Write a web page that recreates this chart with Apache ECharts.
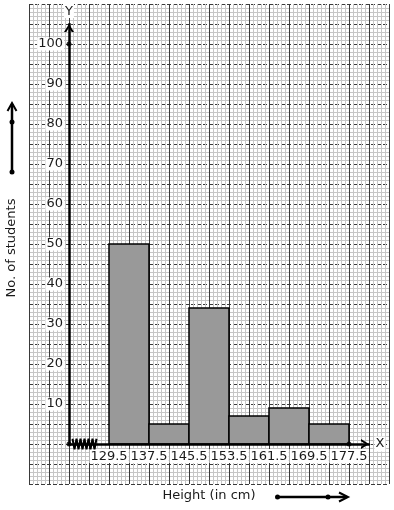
<!DOCTYPE html>
<html>
<head>
<meta charset="utf-8">
<script src="https://cdn.jsdelivr.net/npm/echarts@6/dist/echarts.min.js"></script>
<style>html,body{margin:0;padding:0;background:#fff}#c{width:394px;height:510px}</style>
</head>
<body>
<div id="c"></div>
<script>
// ---- data ----
const classEdges = [129.5, 137.5, 145.5, 153.5, 161.5, 169.5, 177.5];
const students = [50, 5, 34, 7, 9, 5];
const yTickLabels = [10, 20, 30, 40, 50, 60, 70, 80, 90, 100];
const xAxisStart = 121.5;
const xAxisEnd = 181.5;
const yAxisMax = 105;
const axisDots = [[121.5, 0], [121.5, 100], [177.5, 0]];
const xTitle = 'Height (in cm)';
const yTitle = 'No. of students';

const FONT = 'DejaVu Sans';
const TXT = '#1a1a1a';
const chevron = 'path://M0,8 L5,0 L10,8 L7.7,8 L5,3.6 L2.3,8 Z';

const bars = students.map((v, i) => [classEdges[i], classEdges[i + 1], v]);

// break mark (zigzag) between origin and first class edge
const zig = [];
for (let k = 0; k <= 12; k++) {
  zig.push([xAxisStart + 0.7 + k * 0.4, k % 2 === 0 ? 1.3 : -1.3]);
}

const chart = echarts.init(document.getElementById('c'), null, {renderer: 'canvas'});
chart.setOption({
  animation: false,
  backgroundColor: '#fff',
  grid: [
    {left: 29, top: 4, width: 360, height: 480},
    {left: 69, top: 24, width: 300, height: 420}
  ],
  xAxis: [
    {
      gridIndex: 0, type: 'value', min: 0, max: 90, interval: 5, z: 0,
      axisLine: {show: false}, axisTick: {show: false}, axisLabel: {show: false},
      splitLine: {show: true, lineStyle: {color: '#3a3a3a', width: 1}},
      minorTick: {show: false, splitNumber: 5},
      minorSplitLine: {show: true, lineStyle: {color: '#c6c6c6', width: 1}}
    },
    {
      gridIndex: 1, type: 'value', min: xAxisStart, max: xAxisEnd, z: 6,
      name: 'X', nameLocation: 'end', nameGap: 4,
      nameTextStyle: {fontFamily: FONT, fontSize: 13, color: TXT, backgroundColor: '#fff', padding: [1, 1, 1, 1]},
      axisLine: {show: true, lineStyle: {color: '#000', width: 2.5},
        symbol: ['none', chevron], symbolSize: [10, 8], symbolOffset: [0, -4]},
      axisTick: {show: false},
      axisLabel: {show: true, customValues: classEdges, margin: 5,
        formatter: v => v.toFixed(1),
        fontFamily: FONT, fontSize: 13, color: TXT,
        backgroundColor: '#fff', padding: [1, 1, 0, 1]},
      splitLine: {show: false}
    }
  ],
  yAxis: [
    {
      gridIndex: 0, type: 'value', min: 0, max: 120, interval: 5, z: 0,
      axisLine: {show: false}, axisTick: {show: false}, axisLabel: {show: false},
      splitLine: {show: true, lineStyle: {color: '#3a3a3a', width: 1, type: [4, 2]}},
      minorTick: {show: false, splitNumber: 5},
      minorSplitLine: {show: true, lineStyle: {color: '#c6c6c6', width: 1}}
    },
    {
      gridIndex: 1, type: 'value', min: 0, max: yAxisMax, z: 6,
      name: 'Y', nameLocation: 'end', nameGap: 6,
      nameTextStyle: {fontFamily: FONT, fontSize: 13, color: TXT, backgroundColor: '#fff', padding: [1, 1, 0, 1]},
      axisLine: {show: true, lineStyle: {color: '#000', width: 2.5},
        symbol: ['none', chevron], symbolSize: [10, 8], symbolOffset: [0, -4]},
      axisTick: {show: false},
      axisLabel: {show: true, customValues: yTickLabels, margin: 5,
        fontFamily: FONT, fontSize: 13, color: TXT,
        backgroundColor: '#fff', padding: [0, 1, 0, 1]},
      splitLine: {show: false}
    }
  ],
  series: [
    {
      type: 'custom', xAxisIndex: 1, yAxisIndex: 1, z: 3,
      data: bars,
      renderItem: function (params, api) {
        const p0 = api.coord([api.value(0), api.value(2)]);
        const p1 = api.coord([api.value(1), 0]);
        return {
          type: 'rect',
          shape: {x: p0[0], y: p0[1], width: p1[0] - p0[0], height: p1[1] - p0[1]},
          style: {fill: '#999999', stroke: '#000', lineWidth: 1.5}
        };
      }
    },
    {
      type: 'line', xAxisIndex: 1, yAxisIndex: 1, z: 7, clip: false,
      data: zig, showSymbol: false, lineStyle: {color: '#000', width: 2}
    },
    {
      type: 'scatter', xAxisIndex: 1, yAxisIndex: 1, z: 8, clip: false,
      data: axisDots, symbolSize: 5, itemStyle: {color: '#000'}
    }
  ],
  graphic: [
    {type: 'text', x: 12, y: 248, rotation: Math.PI / 2, z: 10,
      style: {text: yTitle, font: '13px "DejaVu Sans"', fill: TXT, align: 'center', verticalAlign: 'middle'}},
    {type: 'text', x: 209, y: 496, z: 10,
      style: {text: xTitle, font: '13px "DejaVu Sans"', fill: TXT, align: 'center', verticalAlign: 'middle'}},
    // left arrow
    {type: 'line', z: 10, shape: {x1: 12, y1: 172, x2: 12, y2: 104}, style: {stroke: '#000', lineWidth: 2.5}},
    {type: 'polyline', z: 10, shape: {points: [[7.5, 111], [12, 103], [16.5, 111]]}, style: {stroke: '#000', lineWidth: 2, fill: null}},
    {type: 'circle', z: 10, shape: {cx: 12, cy: 122, r: 2.5}, style: {fill: '#000'}},
    {type: 'circle', z: 10, shape: {cx: 12, cy: 172, r: 2.5}, style: {fill: '#000'}},
    // bottom arrow
    {type: 'line', z: 10, shape: {x1: 277, y1: 497, x2: 347, y2: 497}, style: {stroke: '#000', lineWidth: 2.5}},
    {type: 'polyline', z: 10, shape: {points: [[339, 492.5], [348, 497], [339, 501.5]]}, style: {stroke: '#000', lineWidth: 2, fill: null}},
    {type: 'circle', z: 10, shape: {cx: 277.5, cy: 497, r: 2.5}, style: {fill: '#000'}},
    {type: 'circle', z: 10, shape: {cx: 328, cy: 497, r: 2.5}, style: {fill: '#000'}}
  ]
});
</script>
</body>
</html>
